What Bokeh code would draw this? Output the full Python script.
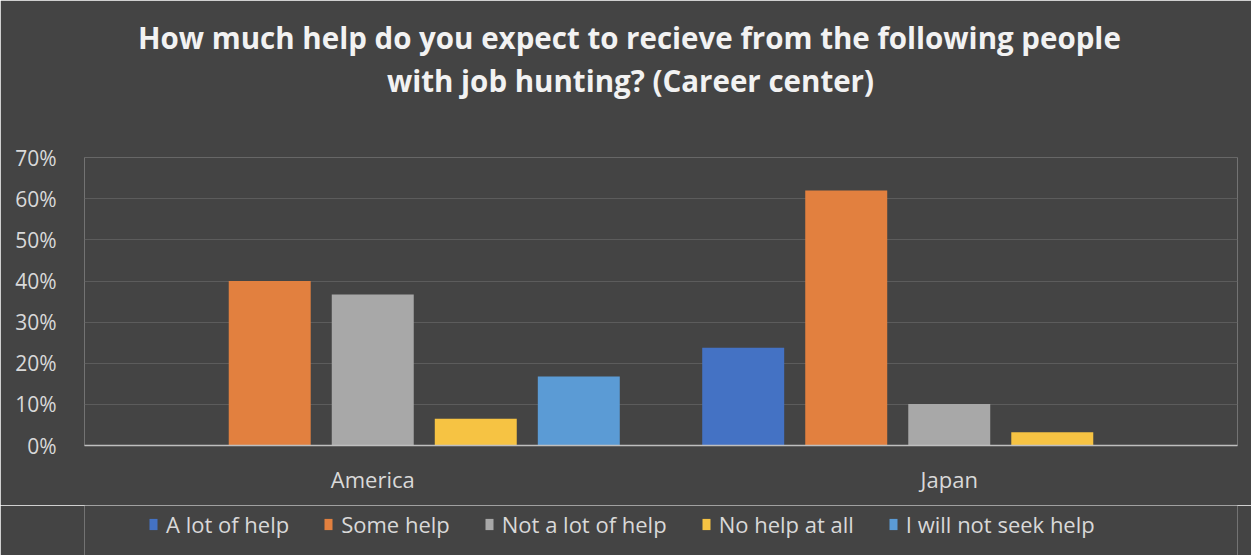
from bokeh.plotting import figure
from bokeh.models import (FactorRange, NumeralTickFormatter, SingleIntervalTicker, ColumnDataSource,
                          Title, Legend, LegendItem)
from bokeh.layouts import column
from bokeh.transform import dodge
from bokeh.embed import file_html
from bokeh.resources import INLINE

countries = ["America", "Japan"]
series = ["A lot of help", "Some help", "Not a lot of help", "No help at all", "I will not seek help"]
colors = ["#4472C4", "#E2803F", "#A8A8A8", "#F6C343", "#5B9BD5"]
a_lot_of_help = [0.0, 0.238]
some_help = [0.40, 0.62]
not_a_lot_of_help = [0.367, 0.101]
no_help_at_all = [0.065, 0.032]
will_not_seek_help = [0.168, 0.0]
title_line1 = "How much help do you expect to recieve from the following people"
title_line2 = "with job hunting? (Career center)"

src = ColumnDataSource(dict(
    country=countries,
    s0=a_lot_of_help, s1=some_help, s2=not_a_lot_of_help, s3=no_help_at_all, s4=will_not_seek_help,
))

BG = "#444444"
TXT = "#d9d9d9"
FONT = "Open Sans"
step = 0.1787
bw = 0.1422

p = figure(x_range=FactorRange(*countries), y_range=(0, 0.7005),
           frame_width=1153, frame_height=288, output_backend="svg", toolbar_location=None,
           min_border_left=84, min_border_right=14, min_border_top=157, min_border_bottom=60)
p.background_fill_color = BG
p.border_fill_color = BG
p.outline_line_color = None
p.outline_line_alpha = 0


def style_title(t, standoff, offset):
    t.align = "left"
    t.offset = offset
    t.text_font = FONT
    t.text_font_style = "bold"
    t.text_font_size = "29.5px"
    t.text_color = "#f2f2f2"
    t.standoff = standoff


p.title.text = title_line1
style_title(p.title, 0, 53.5)
spacer = Title(text=" ", text_font_size="20px", standoff=33)
p.add_layout(spacer, "above")
t2 = Title(text=title_line2)
style_title(t2, 0, 302.5)
p.add_layout(t2, "above")

for i, s in enumerate(series):
    p.vbar(x=dodge("country", (i - 2) * step, range=p.x_range), top="s%d" % i, width=bw,
           source=src, fill_color=colors[i], line_color=None)

p.xgrid.visible = False
p.ygrid.grid_line_color = "#5c5c5c"
p.ygrid.grid_line_width = 1

p.yaxis.ticker = SingleIntervalTicker(interval=0.1)
p.yaxis.formatter = NumeralTickFormatter(format="0%")
p.yaxis.axis_line_color = None
p.yaxis.major_tick_line_color = None
p.yaxis.minor_tick_line_color = None
p.yaxis.major_tick_out = 0
p.yaxis.major_label_standoff = 24
p.yaxis.major_label_text_font = FONT
p.yaxis.major_label_text_font_size = "21px"
p.yaxis.major_label_text_color = TXT

p.xaxis.axis_line_color = "#bfbfbf"
p.xaxis.axis_line_width = 1.5
p.xaxis.major_tick_line_color = None
p.xaxis.minor_tick_line_color = None
p.xaxis.major_tick_out = 0
p.xaxis.major_label_standoff = 18
p.xaxis.major_label_text_font = FONT
p.xaxis.major_label_text_font_size = "22px"
p.xaxis.major_label_text_color = TXT

# legend strip underneath the chart (its bars lie outside its view; only the legend shows)
pl = figure(frame_width=1153, frame_height=50, x_range=FactorRange(*countries), y_range=(5, 6),
            x_axis_type=None, y_axis_type=None, output_backend="svg", toolbar_location=None,
            min_border_left=84, min_border_right=14, min_border_top=0, min_border_bottom=0)
pl.background_fill_color = BG
pl.border_fill_color = BG
pl.outline_line_color = None
pl.outline_line_alpha = 0
pl.grid.visible = False
items = []
for i, s in enumerate(series):
    r = pl.vbar(x=dodge("country", (i - 2) * step, range=pl.x_range), top="s%d" % i, width=bw,
                source=src, fill_color=colors[i], line_color=None)
    items.append(LegendItem(label=s, renderers=[r]))

lg = Legend(items=items)
lg.location = (64, 16)
lg.orientation = "horizontal"
lg.background_fill_alpha = 0
lg.border_line_color = None
lg.border_line_alpha = 0
lg.label_text_color = TXT
lg.label_text_font = FONT
lg.label_text_font_size = "22px"
lg.glyph_width = 10
lg.glyph_height = 14
lg.label_standoff = 8
lg.spacing = 34
lg.padding = 0
lg.margin = 0
pl.add_layout(lg, "center")

layout = column(p, pl, spacing=0)
html = file_html(layout, INLINE)
html = html.replace("<body>", '<body style="margin:0;background-color:%s;">' % BG, 1)
open("out.html", "w").write(html)
